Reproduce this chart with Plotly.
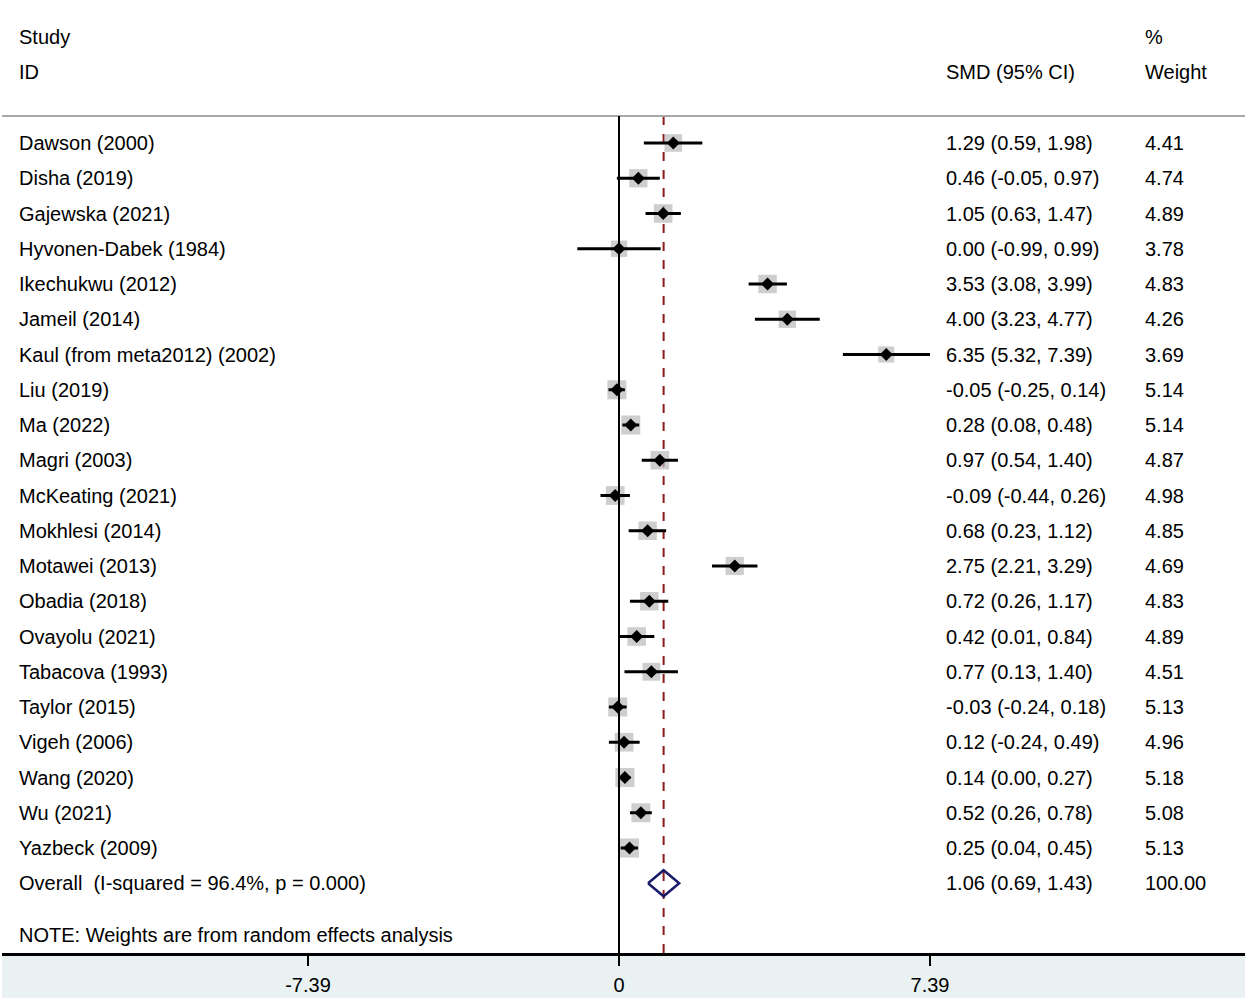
import plotly.graph_objects as go

studies = ["Dawson (2000)", "Disha (2019)", "Gajewska (2021)", "Hyvonen-Dabek (1984)",
           "Ikechukwu (2012)", "Jameil (2014)", "Kaul (from meta2012) (2002)", "Liu (2019)",
           "Ma (2022)", "Magri (2003)", "McKeating (2021)", "Mokhlesi (2014)", "Motawei (2013)",
           "Obadia (2018)", "Ovayolu (2021)", "Tabacova (1993)", "Taylor (2015)", "Vigeh (2006)",
           "Wang (2020)", "Wu (2021)", "Yazbeck (2009)"]
smd = [1.29, 0.46, 1.05, 0.00, 3.53, 4.00, 6.35, -0.05, 0.28, 0.97, -0.09, 0.68, 2.75,
       0.72, 0.42, 0.77, -0.03, 0.12, 0.14, 0.52, 0.25]
lower = [0.59, -0.05, 0.63, -0.99, 3.08, 3.23, 5.32, -0.25, 0.08, 0.54, -0.44, 0.23, 2.21,
         0.26, 0.01, 0.13, -0.24, -0.24, 0.00, 0.26, 0.04]
upper = [1.98, 0.97, 1.47, 0.99, 3.99, 4.77, 7.39, 0.14, 0.48, 1.40, 0.26, 1.12, 3.29,
         1.17, 0.84, 1.40, 0.18, 0.49, 0.27, 0.78, 0.45]
weights = [4.41, 4.74, 4.89, 3.78, 4.83, 4.26, 3.69, 5.14, 5.14, 4.87, 4.98, 4.85, 4.69,
           4.83, 4.89, 4.51, 5.13, 4.96, 5.18, 5.08, 5.13]

overall_label = "Overall\u00a0\u00a0(I-squared = 96.4%, p = 0.000)"
overall_smd = 1.06
overall_lower = 0.69
overall_upper = 1.43
overall_weight = "100.00"

tick_vals = [-7.39, 0, 7.39]
tick_text = ["-7.39", "0", "7.39"]

W, H = 1248, 998
BOTTOM = 45
PLOT_H = H - BOTTOM
scale = 311 / 7.39          # px per unit
x0px = 619
row_px0, row_step = 143, 35.25


def px_to_x(p):
    return (p - x0px) / scale


def px_to_row(p):
    return 1 + (p - row_px0) / row_step


rows = list(range(1, len(studies) + 1))
overall_row = len(studies) + 1

font_family = "Liberation Sans, Arial, sans-serif"
FS = 20

fig = go.Figure()

# weight boxes
fig.add_trace(go.Scatter(x=smd, y=rows, mode="markers",
                         marker=dict(symbol="square", color="rgb(185,185,185)",
                                     size=[8.4 * w ** 0.5 for w in weights],
                                     line=dict(width=0)),
                         hoverinfo="skip"))

# CI lines
ci_x, ci_y = [], []
for r, lo, hi in zip(rows, lower, upper):
    ci_x += [lo, hi, None]
    ci_y += [r, r, None]
fig.add_trace(go.Scatter(x=ci_x, y=ci_y, mode="lines",
                         line=dict(color="black", width=3), hoverinfo="skip"))

# point estimates
fig.add_trace(go.Scatter(x=smd, y=rows, mode="markers",
                         marker=dict(symbol="diamond", color="black", size=10,
                                     line=dict(width=0)),
                         hoverinfo="skip"))

# overall diamond
dh = 0.37
fig.add_trace(go.Scatter(
    x=[overall_lower, overall_smd, overall_upper, overall_smd, overall_lower],
    y=[overall_row, overall_row - dh, overall_row, overall_row + dh, overall_row],
    mode="lines", line=dict(color="#1b1b6b", width=2.5), hoverinfo="skip"))

top_row = px_to_row(116)
y_bottom = px_to_row(PLOT_H)

shapes = [
    # band below axis
    dict(type="rect", xref="paper", yref="paper", x0=2 / W, x1=1245 / W,
         y0=-BOTTOM / PLOT_H, y1=-3 / PLOT_H, fillcolor="#e9f1f3",
         line=dict(width=0), layer="below"),
    # header separator
    dict(type="line", xref="paper", yref="y", x0=2 / W, x1=1245 / W,
         y0=top_row, y1=top_row, line=dict(color="#a8a8a8", width=2)),
    # null line
    dict(type="line", xref="x", yref="y", x0=0, x1=0, y0=top_row, y1=y_bottom,
         line=dict(color="black", width=2)),
    # overall dashed line
    dict(type="line", xref="x", yref="y", x0=overall_smd, x1=overall_smd,
         y0=top_row, y1=y_bottom, line=dict(color="#8b1a1a", width=2, dash="dash"),
         layer="below"),
]

annotations = []


def add_text(text, xpx, row, anchor="left"):
    annotations.append(dict(text=text, xref="paper", yref="y", x=xpx / W, y=row,
                            xanchor=anchor, yanchor="middle", showarrow=False,
                            font=dict(family=font_family, size=FS, color="black")))


add_text("Study", 17, px_to_row(37))
add_text("ID", 17, px_to_row(72))
add_text("SMD (95% CI)", 944, px_to_row(72))
add_text("%", 1143, px_to_row(37))
add_text("Weight", 1143, px_to_row(72))

for r, s, m, lo, hi, w in zip(rows, studies, smd, lower, upper, weights):
    add_text(s, 17, r)
    add_text(f"{m:.2f} ({lo:.2f}, {hi:.2f})", 944, r)
    add_text(f"{w:.2f}", 1143, r)

add_text(overall_label, 17, overall_row)
add_text(f"{overall_smd:.2f} ({overall_lower:.2f}, {overall_upper:.2f})", 944, overall_row)
add_text(overall_weight, 1143, overall_row)
add_text("NOTE: Weights are from random effects analysis", 17, px_to_row(935))

fig.update_layout(
    width=W, height=H,
    margin=dict(l=0, r=0, t=0, b=BOTTOM, autoexpand=False),
    paper_bgcolor="white", plot_bgcolor="white",
    showlegend=False,
    shapes=shapes, annotations=annotations,
    font=dict(family=font_family, size=FS, color="black"),
    xaxis=dict(range=[px_to_x(2), px_to_x(1245)], domain=[2 / W, 1245 / W],
               tickvals=tick_vals, ticktext=tick_text, ticks="outside", ticklen=10,
               tickwidth=2, tickcolor="black", showline=True, linecolor="black",
               linewidth=2.5, showgrid=False, zeroline=False, automargin=False,
               ticklabelstandoff=2,
               tickfont=dict(family=font_family, size=FS, color="black"),
               fixedrange=True),
    yaxis=dict(range=[y_bottom, px_to_row(0)], visible=False, showgrid=False,
               zeroline=False, automargin=False, fixedrange=True),
)

fig.write_html("out.html", config={"displayModeBar": False},
               post_script="document.body.style.margin='0';document.body.style.overflow='hidden';")
